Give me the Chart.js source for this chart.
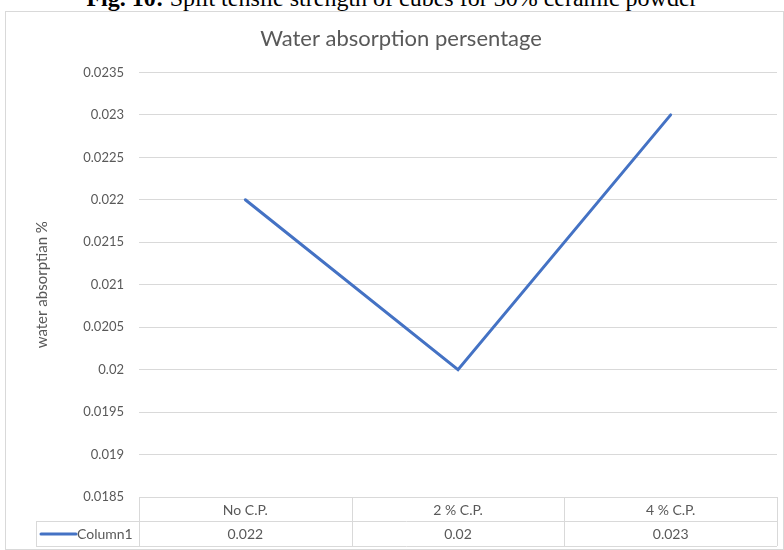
<!DOCTYPE html>
<html>
<head>
<meta charset="utf-8">
<script src="https://cdn.jsdelivr.net/npm/chart.js@4"></script>
<style>
  body { margin: 0; background: #fff; }
  #wrap { position: relative; width: 784px; height: 550px; overflow: hidden; }
  #caption {
    position: absolute; left: 0; top: -14px; width: 784px;
    text-align: center; font-family: "Liberation Serif", serif;
    font-size: 24px; line-height: 24px; color: #000; white-space: nowrap;
  }
  #frame {
    position: absolute; left: 5px; top: 11px; width: 777px; height: 537px;
    border: 1px solid #d9d9d9;
  }
  canvas { position: absolute; left: 0; top: 0; }
</style>
</head>
<body>
<div id="wrap">
  <div id="caption"><b>Fig. 10:</b> Split tensile strength of cubes for 30% ceramic powder</div>
  <div id="frame"></div>
  <canvas id="lineChart" width="784" height="550"></canvas>
</div>
<script>
const categories = ["No C.P.", "2 % C.P.", "4 % C.P."];
const column1 = [0.022, 0.02, 0.023];
const seriesName = "Column1";
const yMin = 0.0185;
const yMax = 0.0235;
const yStep = 0.0005;

const gray = "#595959";
const gridColor = "#d9d9d9";
const blue = "#4472c4";

// data table under the plot, like Excel's "data table with legend keys"
const dataTable = {
  id: "dataTable",
  afterDraw(chart) {
    const ctx = chart.ctx;
    const area = chart.chartArea;
    const n = categories.length;
    const colW = (area.right - area.left) / n;
    const top = Math.round(area.bottom);
    const mid = top + 24;
    const bottom = mid + 25;
    const keyLeft = 36;

    ctx.save();
    ctx.strokeStyle = gridColor;
    ctx.lineWidth = 1;
    ctx.beginPath();
    ctx.moveTo(area.left, top + 0.5); ctx.lineTo(area.right, top + 0.5);
    ctx.moveTo(keyLeft, mid + 0.5); ctx.lineTo(area.right, mid + 0.5);
    ctx.moveTo(keyLeft, bottom + 0.5); ctx.lineTo(area.right, bottom + 0.5);
    ctx.moveTo(keyLeft + 0.5, mid); ctx.lineTo(keyLeft + 0.5, bottom);
    for (let i = 0; i <= n; i++) {
      const x = Math.round(area.left + i * colW) + 0.5;
      ctx.moveTo(x, top); ctx.lineTo(x, bottom);
    }
    ctx.stroke();

    ctx.font = "14px Lato";
    ctx.fillStyle = gray;
    ctx.textAlign = "center";
    ctx.textBaseline = "middle";
    categories.forEach((c, i) => {
      const cx = chart.scales.x.getPixelForValue(i);
      ctx.fillText(c, cx, (top + mid) / 2 + 1);
      ctx.fillText(String(column1[i]), cx, (mid + bottom) / 2 + 1);
    });

    // legend key
    ctx.strokeStyle = blue;
    ctx.lineWidth = 3;
    ctx.lineCap = "round";
    ctx.beginPath();
    ctx.moveTo(41, (mid + bottom) / 2 + 0.5);
    ctx.lineTo(76, (mid + bottom) / 2 + 0.5);
    ctx.stroke();
    ctx.textAlign = "left";
    ctx.fillText(seriesName, 77, (mid + bottom) / 2 + 1);
    ctx.restore();
  }
};

const ctx = document.getElementById("lineChart").getContext("2d");
const myChart = new Chart(ctx, {
  type: "line",
  data: {
    labels: categories,
    datasets: [
      {
        label: seriesName,
        data: column1,
        borderColor: blue,
        backgroundColor: blue,
        borderWidth: 3,
        borderCapStyle: "round",
        pointRadius: 0,
        tension: 0,
      },
    ],
  },
  options: {
    responsive: false,
    animation: false,
    devicePixelRatio: 1,
    layout: { padding: { left: 25, right: 7, top: 15, bottom: 53 } },
    plugins: {
      legend: { display: false },
      tooltip: { enabled: false },
      title: {
        display: true,
        text: "Water absorption persentage",
        color: gray,
        font: { family: "Lato", size: 22, weight: "normal" },
        padding: { top: 11, bottom: 20 },
      },
    },
    scales: {
      x: {
        type: "category",
        display: false,
        offset: true,
      },
      y: {
        min: yMin,
        max: yMax,
        afterFit(scale) { scale.width = 114; },
        ticks: {
          stepSize: yStep,
          color: gray,
          padding: 15,
          font: { family: "Lato", size: 13 },
          callback: (v) => String(Number(v.toFixed(4))),
        },
        grid: { color: gridColor, drawTicks: false },
        border: { display: false },
        title: {
          display: true,
          text: "water absorptian %",
          color: gray,
          padding: { top: 8, bottom: 0 },
          font: { family: "Lato", size: 15 },
        },
      },
    },
  },
  plugins: [dataTable],
});
</script>
</body>
</html>
